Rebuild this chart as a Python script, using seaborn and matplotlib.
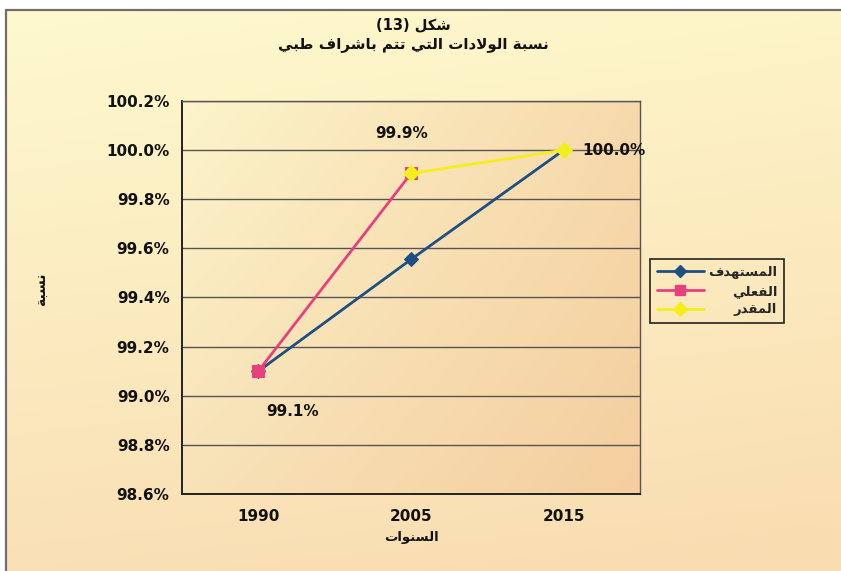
import re
import numpy as np
import pandas as pd
import matplotlib
matplotlib.use("Agg")
import matplotlib.pyplot as plt
import seaborn as sns
from matplotlib.lines import Line2D
from matplotlib.patches import Rectangle

# ---------------- data ----------------
years = ["1990", "2005", "2015"]
target_years = ["1990", "2005", "2015"]
target_values = [99.10, 99.555, 100.00]
actual_years = ["1990", "2005"]
actual_values = [99.10, 99.905]
estimated_years = ["2005", "2015"]
estimated_values = [99.905, 100.00]
series_names = ["المستهدف", "الفعلي", "المقدر"]
label_years = ["1990", "2005", "2015"]
label_values = [99.1, 99.9, 100.0]
label_texts = ["99.1%", "99.9%", "100.0%"]
y_ticks = [98.6, 98.8, 99.0, 99.2, 99.4, 99.6, 99.8, 100.0, 100.2]
title_line1 = "شكل (13)"
title_line2 = "نسبة الولادات التي تتم باشراف طبي"
x_title = "السنوات"
y_title = "نسبة"

# ------------- minimal Arabic shaping (presentation forms, visual order) -------------
FORMS = {
    "ا": ("\uFE8D", "\uFE8E", None, None),
    "ب": ("\uFE8F", "\uFE90", "\uFE91", "\uFE92"),
    "ة": ("\uFE93", "\uFE94", None, None),
    "ت": ("\uFE95", "\uFE96", "\uFE97", "\uFE98"),
    "د": ("\uFEA9", "\uFEAA", None, None),
    "ر": ("\uFEAD", "\uFEAE", None, None),
    "س": ("\uFEB1", "\uFEB2", "\uFEB3", "\uFEB4"),
    "ش": ("\uFEB5", "\uFEB6", "\uFEB7", "\uFEB8"),
    "ط": ("\uFEC1", "\uFEC2", "\uFEC3", "\uFEC4"),
    "ع": ("\uFEC9", "\uFECA", "\uFECB", "\uFECC"),
    "ف": ("\uFED1", "\uFED2", "\uFED3", "\uFED4"),
    "ق": ("\uFED5", "\uFED6", "\uFED7", "\uFED8"),
    "ك": ("\uFED9", "\uFEDA", "\uFEDB", "\uFEDC"),
    "ل": ("\uFEDD", "\uFEDE", "\uFEDF", "\uFEE0"),
    "م": ("\uFEE1", "\uFEE2", "\uFEE3", "\uFEE4"),
    "ن": ("\uFEE5", "\uFEE6", "\uFEE7", "\uFEE8"),
    "ه": ("\uFEE9", "\uFEEA", "\uFEEB", "\uFEEC"),
    "و": ("\uFEED", "\uFEEE", None, None),
    "ي": ("\uFEF1", "\uFEF2", "\uFEF3", "\uFEF4"),
}


def shape(text):
    chars = list(text)
    n = len(chars)
    out = []
    i = 0

    def joins_fwd(c):
        return c in FORMS and FORMS[c][2] is not None

    while i < n:
        c = chars[i]
        if c not in FORMS:
            out.append(c)
            i += 1
            continue
        prev_j = i > 0 and joins_fwd(chars[i - 1])
        if c == "ل" and i + 1 < n and chars[i + 1] == "ا":
            out.append("\uFEFC" if prev_j else "\uFEFB")
            i += 2
            continue
        next_j = i + 1 < n and chars[i + 1] in FORMS and FORMS[c][2] is not None
        iso, fin, ini, med = FORMS[c]
        if prev_j and next_j:
            g = med
        elif prev_j:
            g = fin
        elif next_j:
            g = ini
        else:
            g = iso
        out.append(g)
        i += 1
    s = "".join(out)[::-1]
    s = re.sub(r"[0-9]+", lambda m: m.group(0)[::-1], s)
    s = s.translate(str.maketrans("()", ")("))
    return s


# ---------------- figure ----------------
sns.set_theme(style="white")
plt.rcParams["font.family"] = ["DejaVu Sans"]
plt.rcParams["font.weight"] = "bold"

W, H = 841, 571
fig = plt.figure(figsize=(W / 100, H / 100), dpi=100, facecolor="white")


def gradient(c_tl, c_tr, c_bl, c_br, h=100, w=100):
    c_tl, c_tr, c_bl, c_br = [np.array(c) / 255.0 for c in (c_tl, c_tr, c_bl, c_br)]
    yy, xx = np.mgrid[0:1:complex(h), 0:1:complex(w)]
    yy = yy[..., None]
    xx = xx[..., None]
    top = c_tl * (1 - xx) + c_tr * xx
    bot = c_bl * (1 - xx) + c_br * xx
    return top * (1 - yy) + bot * yy


# chart-area background
fx0, fy0 = 6 / W, 1 - 10 / H
bg = fig.add_axes([fx0, 0, 1 - fx0, fy0], zorder=-10)
bg.imshow(gradient((254, 249, 206), (253, 244, 200), (250, 224, 182), (249, 220, 176)),
          aspect="auto", extent=[0, 1, 0, 1], interpolation="bilinear")
bg.set_axis_off()
fig.add_artist(Rectangle((fx0, -0.1), 1.2, fy0 + 0.1, transform=fig.transFigure,
                         fill=False, edgecolor="#6e6e6e", linewidth=1.6, zorder=5))

# plot area
left, right, top, bottom = 182, 640, 101, 494
ax = fig.add_axes([left / W, 1 - bottom / H, (right - left) / W, (bottom - top) / H])
ax.set_facecolor("none")
ax.imshow(gradient((252, 244, 202), (247, 218, 172), (248, 226, 184), (244, 206, 158)),
          aspect="auto", extent=[-0.5, 2.5, 98.6, 100.2], interpolation="bilinear", zorder=0)

pos = {y: i for i, y in enumerate(years)}

df_t = pd.DataFrame({"x": [pos[y] for y in target_years], "v": target_values})
df_a = pd.DataFrame({"x": [pos[y] for y in actual_years], "v": actual_values})
df_e = pd.DataFrame({"x": [pos[y] for y in estimated_years], "v": estimated_values})

c_blue, c_pink, c_yel = "#1d4f82", "#e8407c", "#f4ef1c"

sns.lineplot(data=df_t, x="x", y="v", ax=ax, color=c_blue, linewidth=2.0, marker="D",
             markersize=7, markeredgecolor=c_blue, sort=False, zorder=3)
sns.lineplot(data=df_a, x="x", y="v", ax=ax, color=c_pink, linewidth=2.0, marker="s",
             markersize=8, markeredgecolor=c_pink, sort=False, zorder=4)
sns.lineplot(data=df_e, x="x", y="v", ax=ax, color=c_yel, linewidth=2.0, marker="D",
             markersize=8, markeredgecolor=c_yel, sort=False, zorder=5)

ax.set_xlim(-0.5, 2.5)
ax.set_ylim(98.6, 100.2)
ax.set_yticks(y_ticks)
ax.set_yticklabels([f"{t:.1f}%" for t in y_ticks])
ax.set_xticks(range(len(years)))
ax.set_xticklabels(years)
ax.set_xticks([0.5, 1.5], minor=True)
ax.tick_params(axis="x", which="major", length=0, pad=11, labelsize=11)
ax.tick_params(axis="x", which="minor", length=5, direction="out", width=1, color="#444444")
ax.tick_params(axis="y", which="major", length=5, direction="out", width=1, pad=4,
               labelsize=11, color="#444444")
for lab in ax.get_xticklabels() + ax.get_yticklabels():
    lab.set_fontweight("bold")
    lab.set_color("#111111")

ax.grid(axis="y", color="#555555", linewidth=1.0, zorder=1)
ax.set_axisbelow(True)
for side in ("left", "bottom"):
    ax.spines[side].set_color("#222222")
    ax.spines[side].set_linewidth(1.4)
for side in ("top", "right"):
    ax.spines[side].set_color("#555555")
    ax.spines[side].set_linewidth(1.0)

ax.set_xlabel(shape(x_title), fontsize=9.5, fontweight="bold", color="#111111")
ax.set_ylabel(shape(y_title), fontsize=10, fontweight="bold", color="#111111")
ax.yaxis.set_label_coords(-0.29, 0.52)
ax.xaxis.set_label_coords(0.5, -0.095)

# data labels
offsets = [(25, -29, "center"), (-6.5, 30, "center"), (13.5, 0, "left")]
for yr, val, txt, (dx, dy, ha) in zip(label_years, label_values, label_texts, offsets):
    ax.annotate(txt, (pos[yr], val), xytext=(dx, dy), textcoords="offset points",
                ha=ha, va="center", fontsize=11, fontweight="bold", color="#111111",
                zorder=6)

# title
cx = 0.5 * (left + right) / W + 0.003
fig.text(cx, 1 - 25 / H, shape(title_line1), ha="center", va="center",
         fontsize=10.5, fontweight="bold", color="#111111")
fig.text(cx, 1 - 45 / H, shape(title_line2), ha="center", va="center",
         fontsize=10.8, fontweight="bold", color="#111111")

# legend
handles = [
    Line2D([], [], color=c_blue, marker="D", markersize=6, linewidth=2),
    Line2D([], [], color=c_pink, marker="s", markersize=7, linewidth=2),
    Line2D([], [], color=c_yel, marker="D", markersize=7, linewidth=2),
]
leg = fig.legend(handles, [shape(s) for s in series_names], loc="upper left",
                 bbox_to_anchor=(650 / W, 1 - 259 / H), frameon=True, fancybox=False,
                 edgecolor="#222222", facecolor="none", framealpha=1,
                 prop={"size": 9.5, "weight": "bold"}, handlelength=3.6,
                 handletextpad=0.3, borderpad=0.5, labelspacing=0.45, borderaxespad=0)
leg.get_frame().set_linewidth(1.2)

# right-align the legend labels (RTL text), keeping handles aligned on the left
fig.canvas.draw()
renderer = fig.canvas.get_renderer()
widths = [t.get_window_extent(renderer).width for t in leg.get_texts()]
mx = max(widths)
try:
    column = leg._legend_handle_box.get_children()[0]
    for row, w in zip(column.get_children(), widths):
        row.sep = row.sep + (mx - w) * 72.0 / fig.dpi
except Exception:
    pass

fig.savefig("out.png", dpi=100, facecolor="white")
